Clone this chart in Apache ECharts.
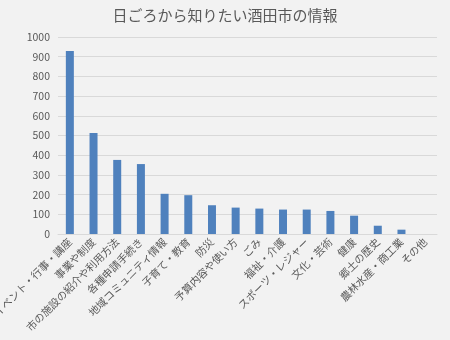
<!DOCTYPE html>
<html><head><meta charset="utf-8">
<script src="https://cdn.jsdelivr.net/npm/echarts@6/dist/echarts.min.js"></script>
<style>html,body{margin:0;padding:0;background:#f2f2f2}#c{width:450px;height:340px}</style>
</head><body><div id="c"></div>
<script>
const categories = ["イベント・行事・講座","事業や制度","市の施設の紹介や利用方法","各種申請手続き","地域コミュニティ情報","子育て・教育","防災","予算内容や使い方","ごみ","福祉・介護","スポーツ・レジャー","文化・芸術","健康","郷土の歴史","農林水産・商工業","その他"];
const values = [929, 513, 376, 355, 204, 197, 146, 134, 129, 124, 124, 117, 93, 42, 22, 0];
const titleText = "日ごろから知りたい酒田市の情報";
const chart = echarts.init(document.getElementById('c'));
chart.setOption({
  backgroundColor: '#f2f2f2',
  animation: false,
  title: { text: titleText, left: 'center', top: 3, textStyle: { fontSize: 15, fontWeight: 'normal', color: '#595959', fontFamily: 'Noto Sans CJK JP' } },
  grid: { left: 58, right: 13, top: 37, bottom: 106, containLabel: false, outerBoundsMode: 'none' },
  xAxis: { type: 'category', data: categories,
    axisLine: { lineStyle: { color: '#d9d9d9' } }, axisTick: { show: false },
    axisLabel: { rotate: 45, interval: 0, fontSize: 10.5, color: '#595959', fontFamily: 'Noto Sans CJK JP', margin: 6 } },
  yAxis: { type: 'value', min: 0, max: 1000, interval: 100,
    axisLine: { show: false }, axisTick: { show: false },
    splitLine: { lineStyle: { color: '#d9d9d9' } },
    axisLabel: { fontSize: 10.5, color: '#595959', fontFamily: 'Noto Sans CJK JP', margin: 8, formatter: v => String(v) } },
  series: [{ type: 'bar', data: values, barWidth: 8, itemStyle: { color: '#4f81bd' } }]
});
</script></body></html>
